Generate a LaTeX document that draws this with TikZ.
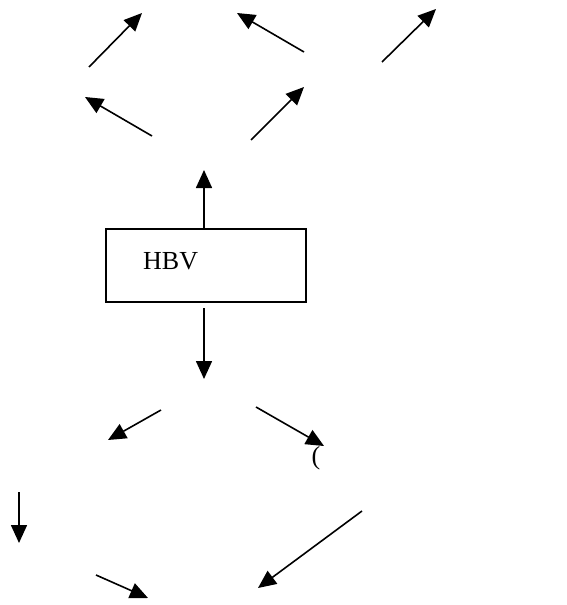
\documentclass[tikz,border=0pt]{standalone}
\usepackage{fontspec}
\setmainfont{Liberation Serif}
\usetikzlibrary{arrows.meta}
\begin{document}
\begin{tikzpicture}[x=1pt,y=-1pt,
  conn/.style={line width=1.6pt,-{Triangle[length=18pt,width=16pt]}},
  boxnode/.style={draw,line width=1.3pt,minimum width=200pt,minimum height=73pt,inner sep=0pt},
  lbl/.style={font=\fontsize{26}{30}\selectfont,inner sep=0pt}]
\useasboundingbox (0,0) rectangle (567,605);
% top arrows
\coordinate (a1s) at (89,67);   \coordinate (a1e) at (142,13);
\coordinate (a2s) at (304,52);  \coordinate (a2e) at (237,13);
\coordinate (a3s) at (382,62);  \coordinate (a3e) at (436,9);
\coordinate (a4s) at (152,136); \coordinate (a4e) at (85,97);
\coordinate (a5s) at (251,140); \coordinate (a5e) at (304,87);
\draw[conn] (a1s) -- (a1e);
\draw[conn] (a2s) -- (a2e);
\draw[conn] (a3s) -- (a3e);
\draw[conn] (a4s) -- (a4e);
\draw[conn] (a5s) -- (a5e);
% box
\node[boxnode] (hbv) at (206,265.5) {};
\node[lbl,anchor=west] (hbvt) at (143,261) {HBV};
\coordinate (upe) at (204,170);
\coordinate (dne) at (204,379);
\coordinate (dns) at (204,308);
\draw[conn] (hbv.north -| upe) -- (upe);
\draw[conn] (dns) -- (dne);
% lower arrows
\coordinate (b1s) at (161,410); \coordinate (b1e) at (108,440);
\coordinate (b2s) at (256,407); \coordinate (b2e) at (324,446);
\coordinate (b3s) at (19,492);  \coordinate (b3e) at (19,543);
\coordinate (b4s) at (362,511); \coordinate (b4e) at (258,588);
\coordinate (b5s) at (96,575);  \coordinate (b5e) at (148,598);
\draw[conn] (b1s) -- (b1e);
\draw[conn] (b2s) -- (b2e);
\draw[conn] (b3s) -- (b3e);
\draw[conn] (b4s) -- (b4e);
\draw[conn] (b5s) -- (b5e);
\node[lbl] (paren) at (316,458) {(};
\end{tikzpicture}
\end{document}
